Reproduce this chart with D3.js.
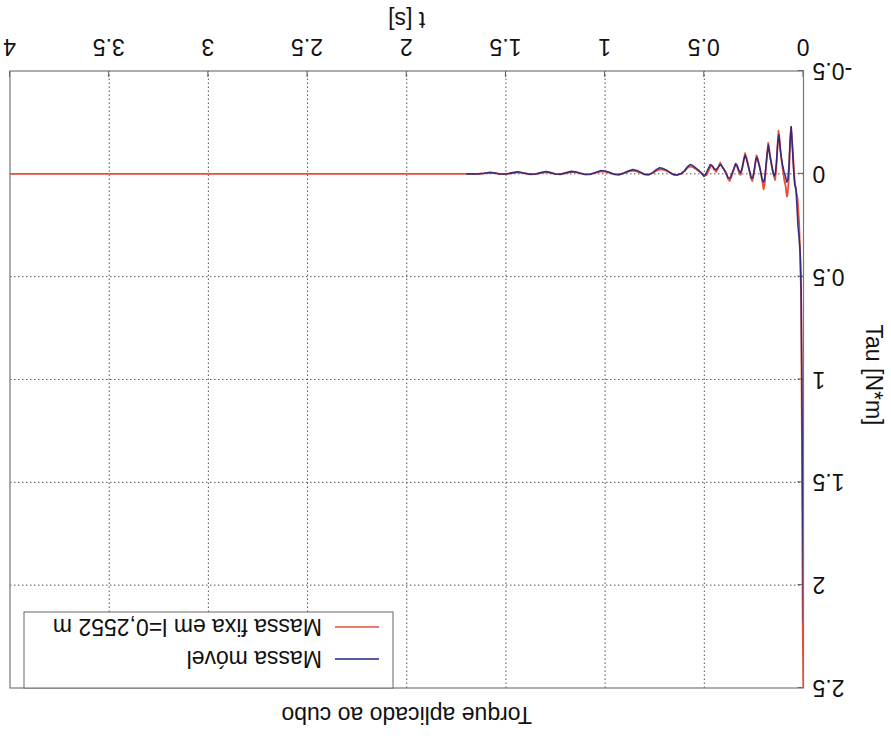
<!DOCTYPE html>
<html>
<head>
<meta charset="utf-8">
<script src="https://cdn.jsdelivr.net/npm/d3@7"></script>
<style>
  html, body { margin: 0; padding: 0; background: #fff; }
  svg { display: block; }
  text { font-family: "Liberation Sans", Arial, Helvetica, sans-serif; fill: #111; }
</style>
</head>
<body>
<svg id="chart" width="891" height="738"></svg>
<script>
// Chart text
const titleText = "Torque aplicado ao cubo";
const xLabel = "t [s]";
const yLabel = "Tau [N*m]";
const seriesNames = ["Massa móvel", "Massa fixa em l=0,2552 m"];

// Axis ticks
const xTicks = [0, 0.5, 1, 1.5, 2, 2.5, 3, 3.5, 4];
const xTickLabels = ["0", "0.5", "1", "1.5", "2", "2.5", "3", "3.5", "4"];
const yTicks = [-0.5, 0, 0.5, 1, 1.5, 2, 2.5];
const yTickLabels = ["-0.5", "0", "0.5", "1", "1.5", "2", "2.5"];

// Torque with the mass fixed at l = 0.2552 m: [t (s), tau (N*m)]
const fixaPoints = [
  [0, 2.60], [0.004, 2.2], [0.008, 1.3], [0.012, 0.6], [0.016, 0.42], [0.022, 0.24],
  [0.030, 0.12], [0.038, 0.08], [0.045, 0.03], [0.052, -0.08], [0.058, -0.17], [0.063, -0.225],
  [0.068, -0.15], [0.074, 0.02], [0.080, 0.10], [0.084, 0.11], [0.090, 0.06], [0.097, 0.03],
  [0.104, -0.02], [0.110, -0.06], [0.116, -0.11], [0.121, -0.17], [0.126, -0.21], [0.131, -0.13],
  [0.137, -0.03], [0.143, 0.03], [0.149, 0.01], [0.155, -0.02], [0.162, -0.05], [0.170, -0.10],
  [0.178, -0.15], [0.184, -0.09], [0.190, -0.02], [0.196, 0.05], [0.201, 0.075], [0.207, 0.04],
  [0.214, 0.0], [0.222, -0.04], [0.230, -0.07], [0.237, -0.09], [0.243, -0.05], [0.250, 0.0],
  [0.258, 0.035], [0.265, 0.02], [0.272, -0.01], [0.280, -0.05], [0.288, -0.08], [0.295, -0.10],
  [0.302, -0.06], [0.310, -0.02], [0.318, 0.005], [0.326, -0.01], [0.335, -0.035], [0.343, -0.045],
  [0.352, -0.02], [0.362, 0.01], [0.372, 0.035], [0.380, 0.025], [0.390, -0.005], [0.400, -0.02],
  [0.410, -0.035], [0.420, -0.055], [0.430, -0.03], [0.440, -0.01], [0.450, -0.02], [0.458, -0.035],
  [0.466, -0.04], [0.476, -0.02], [0.488, 0.005], [0.500, 0.01], [0.515, -0.005], [0.530, -0.015],
  [0.545, -0.025], [0.558, -0.032], [0.572, -0.036], [0.586, -0.028], [0.600, -0.012], [0.618, 0.0],
  [0.638, 0.005], [0.655, 0.004], [0.672, -0.005], [0.690, -0.014], [0.708, -0.02], [0.725, -0.022],
  [0.742, -0.015], [0.760, -0.004], [0.780, 0.004], [0.800, 0.003], [0.820, -0.005], [0.840, -0.012],
  [0.860, -0.016], [0.880, -0.012], [0.905, -0.003], [0.930, 0.004], [0.955, 0.002], [0.980, -0.006],
  [1.000, -0.011], [1.020, -0.012], [1.045, -0.006], [1.075, 0.002], [1.100, 0.003], [1.125, -0.002],
  [1.150, -0.008], [1.170, -0.009], [1.195, -0.004], [1.225, 0.002], [1.250, 0.001], [1.275, -0.005],
  [1.297, -0.008], [1.320, -0.005], [1.350, 0.001], [1.380, 0.002], [1.410, -0.003], [1.440, -0.007],
  [1.465, -0.004], [1.500, 0.001], [1.530, 0.001], [1.555, -0.003], [1.580, -0.005], [1.610, -0.002],
  [1.650, 0.001], [1.700, 0.0], [2.0, 0.0], [3.0, 0.0], [4.0, 0.0]
];

// Torque with the moving mass: [t (s), tau (N*m)]
const movelPoints = [
  [0, 2.18], [0.004, 1.6], [0.008, 1.0], [0.012, 0.55], [0.017, 0.38], [0.023, 0.30],
  [0.028, 0.25], [0.034, 0.14], [0.038, 0.07], [0.044, 0.055], [0.050, -0.02], [0.056, -0.13],
  [0.062, -0.23], [0.067, -0.17], [0.073, -0.04], [0.079, 0.03], [0.085, 0.04], [0.091, 0.01],
  [0.098, -0.01], [0.105, -0.04], [0.112, -0.08], [0.118, -0.13], [0.124, -0.19], [0.130, -0.15],
  [0.136, -0.06], [0.142, 0.0], [0.148, 0.01], [0.155, -0.01], [0.162, -0.05], [0.170, -0.09],
  [0.177, -0.14], [0.183, -0.10], [0.190, -0.03], [0.197, 0.03], [0.203, 0.04], [0.210, 0.02],
  [0.218, -0.02], [0.226, -0.05], [0.234, -0.08], [0.240, -0.07], [0.248, -0.02], [0.256, 0.02],
  [0.263, 0.02], [0.271, -0.01], [0.279, -0.04], [0.287, -0.07], [0.294, -0.09], [0.301, -0.07],
  [0.309, -0.03], [0.317, -0.005], [0.325, -0.015], [0.334, -0.04], [0.342, -0.05], [0.351, -0.025],
  [0.361, 0.0], [0.370, 0.02], [0.380, 0.02], [0.390, 0.0], [0.400, -0.02], [0.410, -0.035],
  [0.418, -0.045], [0.428, -0.035], [0.440, -0.02], [0.450, -0.025], [0.460, -0.04], [0.470, -0.045],
  [0.480, -0.025], [0.492, 0.0], [0.502, 0.012], [0.515, -0.004], [0.530, -0.018], [0.545, -0.03],
  [0.558, -0.04], [0.572, -0.045], [0.586, -0.034], [0.600, -0.015], [0.618, 0.0], [0.638, 0.006],
  [0.655, 0.004], [0.672, -0.006], [0.690, -0.018], [0.708, -0.026], [0.725, -0.03], [0.742, -0.02],
  [0.760, -0.006], [0.780, 0.004], [0.800, 0.003], [0.820, -0.007], [0.840, -0.016], [0.860, -0.021],
  [0.880, -0.015], [0.905, -0.004], [0.930, 0.004], [0.955, 0.002], [0.980, -0.008], [1.000, -0.014],
  [1.020, -0.016], [1.045, -0.008], [1.075, 0.002], [1.100, 0.003], [1.125, -0.003], [1.150, -0.010],
  [1.170, -0.012], [1.195, -0.006], [1.225, 0.002], [1.250, 0.001], [1.275, -0.006], [1.297, -0.011],
  [1.320, -0.007], [1.350, 0.001], [1.380, 0.002], [1.410, -0.004], [1.440, -0.010], [1.465, -0.006],
  [1.500, 0.001], [1.530, 0.001], [1.555, -0.004], [1.580, -0.008], [1.610, -0.003], [1.650, 0.001],
  [1.700, 0.0]
];

const colorMovel = "#23237f";
const colorFixa = "#ea4f3a";

const W = 891, H = 738;
const plot = { left: 87.5, right: 881, top: 50, bottom: 667 };

const svg = d3.select("#chart");
svg.append("rect").attr("width", W).attr("height", H).attr("fill", "#fff");

// The whole figure is drawn turned half a turn about the page centre.
const root = svg.append("g").attr("transform", `rotate(180, ${W / 2}, ${H / 2})`);

const x = d3.scaleLinear().domain([0, 4]).range([plot.left, plot.right]);
const y = d3.scaleLinear().domain([-0.5, 2.5]).range([plot.bottom, plot.top]);

// Grid
const grid = root.append("g").attr("stroke", "#555").attr("stroke-width", 1)
  .attr("stroke-dasharray", "1.5,2.5");
grid.selectAll("line.vx").data(xTicks.slice(1, -1)).join("line")
  .attr("x1", d => x(d)).attr("x2", d => x(d))
  .attr("y1", plot.top).attr("y2", plot.bottom);
grid.selectAll("line.hy").data(yTicks.slice(1, -1)).join("line")
  .attr("x1", plot.left).attr("x2", plot.right)
  .attr("y1", d => y(d)).attr("y2", d => y(d));

// Axes
const xAxis = d3.axisBottom(x).tickValues(xTicks)
  .tickFormat((d, i) => xTickLabels[i]).tickSizeInner(-6).tickSizeOuter(0).tickPadding(16);
const gx = root.append("g").attr("transform", `translate(0,${plot.bottom})`).call(xAxis);
gx.select(".domain").remove();
gx.selectAll(".tick line").attr("stroke", "#555");
gx.selectAll(".tick text").attr("font-size", 23).attr("fill", "#111")
  .attr("font-family", "Liberation Sans, Arial, sans-serif");

const yAxis = d3.axisLeft(y).tickValues(yTicks)
  .tickFormat((d, i) => yTickLabels[i]).tickSizeInner(-6).tickSizeOuter(0).tickPadding(9);
const gy = root.append("g").attr("transform", `translate(${plot.left},0)`).call(yAxis);
gy.select(".domain").remove();
gy.selectAll(".tick line").attr("stroke", "#555");
gy.selectAll(".tick text").attr("font-size", 23).attr("fill", "#111")
  .attr("font-family", "Liberation Sans, Arial, sans-serif");

// Lines, clipped to the plotting area
root.append("clipPath").attr("id", "plotClip")
  .append("rect").attr("x", plot.left).attr("y", plot.top)
  .attr("width", plot.right - plot.left).attr("height", plot.bottom - plot.top);

const line = d3.line().x(d => x(d[0])).y(d => y(d[1]));
const lines = root.append("g").attr("clip-path", "url(#plotClip)").attr("fill", "none")
  .attr("stroke-linejoin", "round");
lines.append("path").datum(fixaPoints).attr("d", line)
  .attr("stroke", colorFixa).attr("stroke-width", 1.8);
lines.append("path").datum(movelPoints).attr("d", line)
  .attr("stroke", colorMovel).attr("stroke-width", 1.6).attr("stroke-opacity", 0.9);

// Plot frame
root.append("rect")
  .attr("x", plot.left).attr("y", plot.top)
  .attr("width", plot.right - plot.left).attr("height", plot.bottom - plot.top)
  .attr("fill", "none").attr("stroke", "#777").attr("stroke-width", 1.2);

// Legend
const legend = root.append("g");
legend.append("rect").attr("x", 498).attr("y", plot.top)
  .attr("width", 369).attr("height", 76)
  .attr("fill", "#fff").attr("stroke", "#666").attr("stroke-width", 1);
const entries = [
  { name: seriesNames[0], color: colorMovel, yy: 79 },
  { name: seriesNames[1], color: colorFixa, yy: 111 }
];
entries.forEach(e => {
  legend.append("line").attr("x1", 512).attr("x2", 556).attr("y1", e.yy).attr("y2", e.yy)
    .attr("stroke", e.color).attr("stroke-width", 1.6);
  legend.append("text").attr("x", 569).attr("y", e.yy).attr("dy", "0.35em")
    .attr("font-size", 23).text(e.name);
});

// Titles
root.append("text").attr("x", (plot.left + plot.right) / 2).attr("y", 23).attr("dy", "0.35em")
  .attr("text-anchor", "middle").attr("font-size", 23).text(titleText);
root.append("text").attr("x", (plot.left + plot.right) / 2).attr("y", 718).attr("dy", "0.35em")
  .attr("text-anchor", "middle").attr("font-size", 23).text(xLabel);
root.append("text").attr("transform", `translate(17, 363) rotate(-90)`).attr("dy", "0.35em")
  .attr("text-anchor", "middle").attr("font-size", 23).text(yLabel);
</script>
</body>
</html>
